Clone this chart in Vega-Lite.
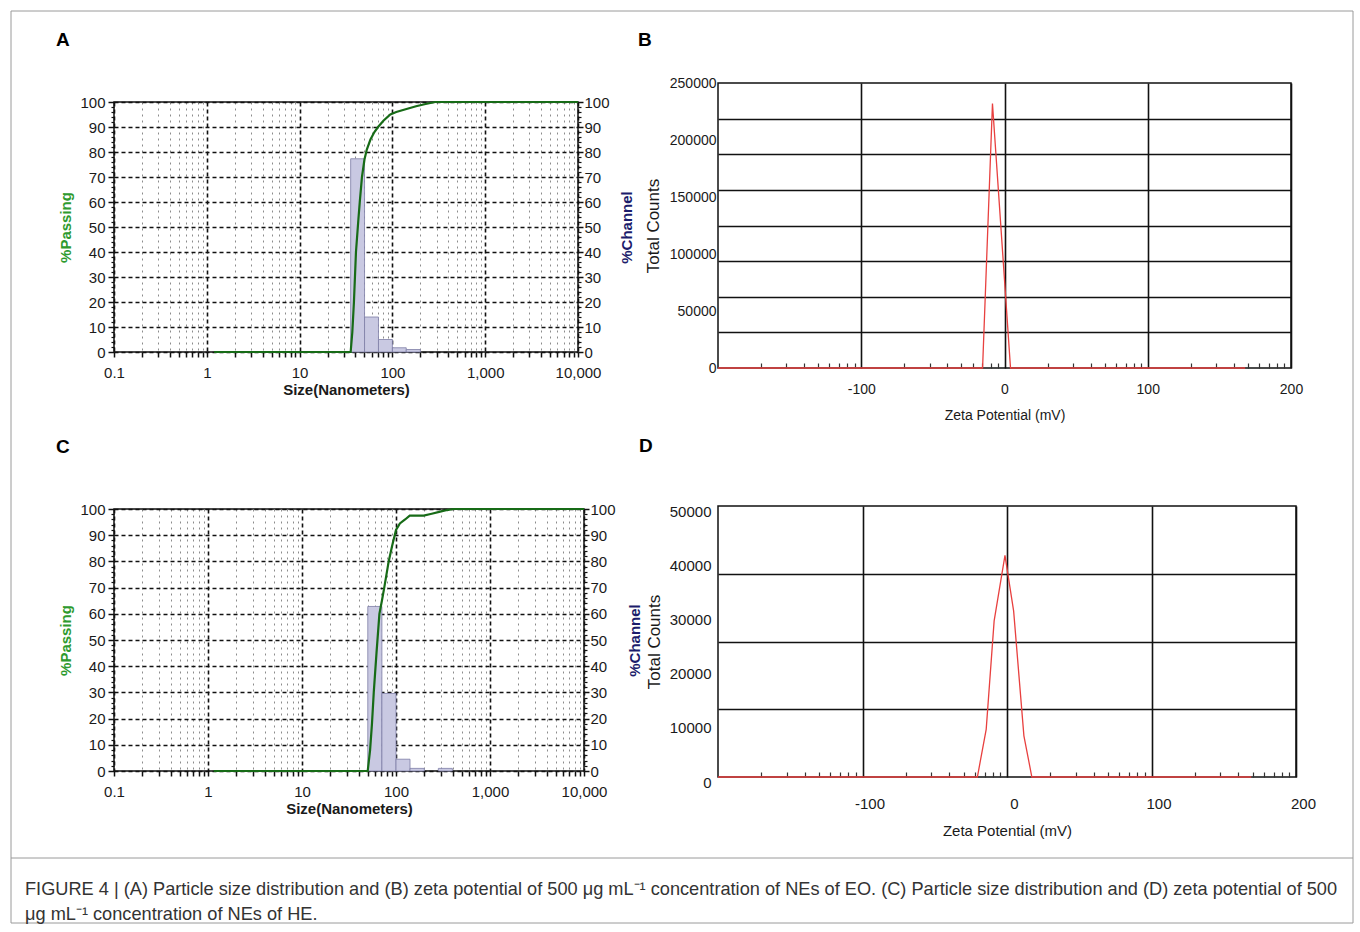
{
  "$schema": "https://vega.github.io/schema/vega-lite/v6.json",
  "background": "white",
  "padding": {"left": 10, "top": 10, "right": 5, "bottom": 5},
  "config": {
    "font": "Liberation Sans",
    "view": {"stroke": "#111", "strokeWidth": 1.5},
    "axis": {"labelColor": "#1a1a1a", "titleColor": "#1a1a1a", "labelFont": "Liberation Sans", "titleFont": "Liberation Sans", "labelFlush": false, "labelOverlap": false, "tickColor": "#111", "domainColor": "#111"},
    "title": {"font": "Liberation Sans", "fontSize": 19, "fontWeight": "bold", "color": "#000", "anchor": "start", "frame": "group"}
  },
  "datasets": {
    "passA": [{"size":1.2,"pct":0},{"size":35.5,"pct":0},{"size":37,"pct":8},{"size":38.5,"pct":20},{"size":40.5,"pct":40},{"size":43,"pct":53},{"size":44.5,"pct":60},{"size":47,"pct":70},{"size":50,"pct":77},{"size":53,"pct":81},{"size":58,"pct":85},{"size":64,"pct":88},{"size":70,"pct":90},{"size":80,"pct":92.5},{"size":95,"pct":95},{"size":110,"pct":96},{"size":145,"pct":97.3},{"size":180,"pct":98.3},{"size":228,"pct":99.2},{"size":290,"pct":100},{"size":10000,"pct":100}],
    "barsA": [{"lo":35.5,"hi":50.1,"ch":77.3},{"lo":50.1,"hi":70.8,"ch":14},{"lo":70.8,"hi":100,"ch":5},{"lo":100,"hi":141,"ch":1.7},{"lo":141,"hi":200,"ch":1}],
    "passC": [{"size":1.15,"pct":0},{"size":50,"pct":0},{"size":53,"pct":8},{"size":55.5,"pct":18},{"size":58,"pct":30},{"size":62,"pct":45},{"size":66.6,"pct":60},{"size":70.8,"pct":65},{"size":75,"pct":70},{"size":83.6,"pct":80},{"size":91,"pct":86},{"size":100,"pct":92},{"size":110,"pct":94.5},{"size":125,"pct":96},{"size":140,"pct":97.5},{"size":197,"pct":97.5},{"size":240,"pct":98.2},{"size":295,"pct":99},{"size":350,"pct":99.6},{"size":406,"pct":100},{"size":10000,"pct":100}],
    "barsC": [{"lo":50.1,"hi":70.8,"ch":62.8},{"lo":70.8,"hi":100,"ch":29.6},{"lo":100,"hi":141,"ch":4.5},{"lo":141,"hi":200,"ch":1},{"lo":282,"hi":398,"ch":1}],
    "zetaB": [{"mv":-200,"counts":0},{"mv":-15.3,"counts":0},{"mv":-8.4,"counts":232000},{"mv":4.2,"counts":0},{"mv":168,"counts":0}],
    "zetaD": [{"mv":-200,"counts":0},{"mv":-20.5,"counts":0},{"mv":-14.4,"counts":8800},{"mv":-8.9,"counts":28800},{"mv":-1.4,"counts":40900},{"mv":4.6,"counts":30600},{"mv":11.7,"counts":7600},{"mv":17.2,"counts":0},{"mv":169,"counts":0}],
    "caption": [{"line":1,"text":"FIGURE 4 | (A) Particle size distribution and (B) zeta potential of 500 μg mL⁻¹ concentration of NEs of EO. (C) Particle size distribution and (D) zeta potential of 500"},{"line":2,"text":"μg mL⁻¹ concentration of NEs of HE."}]
  },
  "columns": 1,
  "spacing": -829,
  "concat": [
    {
      "spacing": -6,
      "hconcat": [
        {
          "spacing": 39,
          "vconcat": [
            {
              "spacing": 10,
              "vconcat": [
                {
                  "width": 464, "height": 1,
                  "view": {"stroke": null},
                  "title": {"text": "A", "dx": -58, "offset": 33},
                  "data": {"values": []},
                  "mark": "point"
                },
                {
                  "width": 464, "height": 250,
                  "resolve": {"axis": {"x": "independent", "y": "independent"}},
                  "layer": [
                    {
                      "data": {"name": "passA"},
                      "mark": {"type": "line", "strokeOpacity": 0},
                      "encoding": {
                        "x": {"field": "size", "type": "quantitative", "scale": {"type": "log", "domain": [0.1, 10000], "nice": false},
                          "axis": {"orient": "bottom", "values": [0.2,0.3,0.4,0.5,0.6,0.7,0.8,0.9,2,3,4,5,6,7,8,9,20,30,40,50,60,70,80,90,200,300,400,500,600,700,800,900,2000,3000,4000,5000,6000,7000,8000,9000], "labels": false, "domain": false, "tickSize": 5, "tickWidth": 1.5, "grid": true, "gridColor": "#8c8c8c", "gridDash": [2, 4], "gridWidth": 1, "title": null}},
                        "y": {"field": "pct", "type": "quantitative", "scale": {"domain": [0, 100], "nice": false},
                          "axis": {"orient": "left", "values": [2,4,6,8,12,14,16,18,22,24,26,28,32,34,36,38,42,44,46,48,52,54,56,58,62,64,66,68,72,74,76,78,82,84,86,88,92,94,96,98], "labels": false, "domain": false, "tickSize": 3, "tickWidth": 1.2, "grid": false, "title": null}}
                      }
                    },
                    {
                      "data": {"name": "barsA"},
                      "mark": {"type": "rect", "fill": "#c9c9e2", "stroke": "#7d7da6", "strokeWidth": 0.8},
                      "encoding": {
                        "x": {"field": "lo", "type": "quantitative", "scale": {"type": "log", "domain": [0.1, 10000], "nice": false},
                          "axis": {"orient": "bottom", "values": [0.1, 1, 10, 100, 1000, 10000], "format": ",", "grid": true, "gridColor": "#111", "gridDash": [4, 3], "gridWidth": 1.6, "tickSize": 5, "tickWidth": 1.5, "domain": false, "labelFontSize": 15, "labelPadding": 8, "title": "Size(Nanometers)", "titleFontSize": 15, "titleFontWeight": "bold", "titlePadding": 2}},
                        "x2": {"field": "hi"},
                        "y": {"field": "ch", "type": "quantitative", "scale": {"domain": [0, 100], "nice": false},
                          "axis": {"orient": "left", "values": [0,10,20,30,40,50,60,70,80,90,100], "format": "d", "grid": true, "gridColor": "#111", "gridDash": [4, 3], "gridWidth": 1.6, "tickSize": 6, "tickWidth": 1.5, "domain": false, "labelFontSize": 15, "labelPadding": 3, "title": "%Passing", "titleColor": "#2e9a2e", "titleFontSize": 15, "titleFontWeight": "bold", "titlePadding": 6}},
                        "y2": {"datum": 0}
                      }
                    },
                    {
                      "data": {"name": "passA"},
                      "mark": {"type": "line", "strokeOpacity": 0},
                      "encoding": {
                        "x": {"field": "size", "type": "quantitative", "scale": {"type": "log", "domain": [0.1, 10000], "nice": false}, "axis": null},
                        "y": {"field": "pct", "type": "quantitative", "scale": {"domain": [0, 100], "nice": false},
                          "axis": {"orient": "right", "values": [2,4,6,8,12,14,16,18,22,24,26,28,32,34,36,38,42,44,46,48,52,54,56,58,62,64,66,68,72,74,76,78,82,84,86,88,92,94,96,98], "labels": false, "domain": false, "tickSize": 3, "tickWidth": 1.2, "grid": false, "title": null}}
                      }
                    },
                    {
                      "data": {"name": "passA"},
                      "mark": {"type": "line", "color": "#176b17", "strokeWidth": 2.2},
                      "encoding": {
                        "x": {"field": "size", "type": "quantitative", "scale": {"type": "log", "domain": [0.1, 10000], "nice": false}, "axis": null},
                        "y": {"field": "pct", "type": "quantitative", "scale": {"domain": [0, 100], "nice": false},
                          "axis": {"orient": "right", "values": [0,10,20,30,40,50,60,70,80,90,100], "format": "d", "grid": false, "tickSize": 5, "tickWidth": 1.5, "domain": false, "labelFontSize": 15, "labelPadding": 1, "title": "%Channel", "titleColor": "#1c1c6b", "titleFontSize": 15, "titleFontWeight": "bold", "titleAngle": 270, "titleBaseline": "top", "titlePadding": 10}}
                      }
                    }
                  ]
                }
              ]
            },
            {
              "width": 470, "height": 262,
              "title": {"text": "C", "dx": -58, "offset": 45},
              "resolve": {"axis": {"x": "independent", "y": "independent"}},
              "layer": [
                {
                  "data": {"name": "passC"},
                  "mark": {"type": "line", "strokeOpacity": 0},
                  "encoding": {
                    "x": {"field": "size", "type": "quantitative", "scale": {"type": "log", "domain": [0.1, 10000], "nice": false},
                      "axis": {"orient": "bottom", "values": [0.2,0.3,0.4,0.5,0.6,0.7,0.8,0.9,2,3,4,5,6,7,8,9,20,30,40,50,60,70,80,90,200,300,400,500,600,700,800,900,2000,3000,4000,5000,6000,7000,8000,9000], "labels": false, "domain": false, "tickSize": 5, "tickWidth": 1.5, "grid": true, "gridColor": "#8c8c8c", "gridDash": [2, 4], "gridWidth": 1, "title": null}},
                    "y": {"field": "pct", "type": "quantitative", "scale": {"domain": [0, 100], "nice": false},
                      "axis": {"orient": "left", "values": [2,4,6,8,12,14,16,18,22,24,26,28,32,34,36,38,42,44,46,48,52,54,56,58,62,64,66,68,72,74,76,78,82,84,86,88,92,94,96,98], "labels": false, "domain": false, "tickSize": 3, "tickWidth": 1.2, "grid": false, "title": null}}
                  }
                },
                {
                  "data": {"name": "barsC"},
                  "mark": {"type": "rect", "fill": "#c9c9e2", "stroke": "#7d7da6", "strokeWidth": 0.8},
                  "encoding": {
                    "x": {"field": "lo", "type": "quantitative", "scale": {"type": "log", "domain": [0.1, 10000], "nice": false},
                      "axis": {"orient": "bottom", "values": [0.1, 1, 10, 100, 1000, 10000], "format": ",", "grid": true, "gridColor": "#111", "gridDash": [4, 3], "gridWidth": 1.6, "tickSize": 5, "tickWidth": 1.5, "domain": false, "labelFontSize": 15, "labelPadding": 8, "title": "Size(Nanometers)", "titleFontSize": 15, "titleFontWeight": "bold", "titlePadding": 2}},
                    "x2": {"field": "hi"},
                    "y": {"field": "ch", "type": "quantitative", "scale": {"domain": [0, 100], "nice": false},
                      "axis": {"orient": "left", "values": [0,10,20,30,40,50,60,70,80,90,100], "format": "d", "grid": true, "gridColor": "#111", "gridDash": [4, 3], "gridWidth": 1.6, "tickSize": 6, "tickWidth": 1.5, "domain": false, "labelFontSize": 15, "labelPadding": 3, "title": "%Passing", "titleColor": "#2e9a2e", "titleFontSize": 15, "titleFontWeight": "bold", "titlePadding": 6}},
                    "y2": {"datum": 0}
                  }
                },
                {
                  "data": {"name": "passC"},
                  "mark": {"type": "line", "strokeOpacity": 0},
                  "encoding": {
                    "x": {"field": "size", "type": "quantitative", "scale": {"type": "log", "domain": [0.1, 10000], "nice": false}, "axis": null},
                    "y": {"field": "pct", "type": "quantitative", "scale": {"domain": [0, 100], "nice": false},
                      "axis": {"orient": "right", "values": [2,4,6,8,12,14,16,18,22,24,26,28,32,34,36,38,42,44,46,48,52,54,56,58,62,64,66,68,72,74,76,78,82,84,86,88,92,94,96,98], "labels": false, "domain": false, "tickSize": 3, "tickWidth": 1.2, "grid": false, "title": null}}
                  }
                },
                {
                  "data": {"name": "passC"},
                  "mark": {"type": "line", "color": "#176b17", "strokeWidth": 2.2},
                  "encoding": {
                    "x": {"field": "size", "type": "quantitative", "scale": {"type": "log", "domain": [0.1, 10000], "nice": false}, "axis": null},
                    "y": {"field": "pct", "type": "quantitative", "scale": {"domain": [0, 100], "nice": false},
                      "axis": {"orient": "right", "values": [0,10,20,30,40,50,60,70,80,90,100], "format": "d", "grid": false, "tickSize": 5, "tickWidth": 1.5, "domain": false, "labelFontSize": 15, "labelPadding": 1, "title": "%Channel", "titleColor": "#1c1c6b", "titleFontSize": 15, "titleFontWeight": "bold", "titleAngle": 270, "titleBaseline": "top", "titlePadding": 12}}
                  }
                }
              ]
            }
          ]
        },
        {
          "spacing": 13,
          "vconcat": [
            {
              "width": 573, "height": 285,
              "title": {"text": "B", "dx": -80, "offset": 26},
              "resolve": {"axis": {"x": "independent", "y": "independent"}},
              "layer": [
                {
                  "data": {"name": "zetaB"},
                  "mark": {"type": "line", "strokeOpacity": 0},
                  "encoding": {
                    "x": {"field": "mv", "type": "quantitative", "scale": {"domain": [-200, 200], "nice": false, "zero": false},
                      "axis": {"orient": "bottom", "values": [-169.9,-152.3,-139.8,-130.1,-122.2,-115.5,-109.7,-104.6,-69.9,-52.3,-39.8,-30.1,-22.2,-15.5,-9.7,-4.6,30.1,47.7,60.2,69.9,77.8,84.5,90.3,95.4,130.1,147.7,160.2,169.9,177.8,184.5,190.3,195.4], "labels": false, "domain": false, "tickSize": -5, "tickWidth": 1.2, "tickColor": "#333", "grid": false, "title": null}},
                    "y": {"field": "counts", "type": "quantitative", "scale": {"domain": [0, 250000], "nice": false},
                      "axis": {"orient": "right", "values": [31250, 62500, 93750, 125000, 156250, 187500, 218750], "labels": false, "ticks": false, "domain": false, "grid": true, "gridColor": "#111", "gridWidth": 1.6, "title": null}}
                  }
                },
                {
                  "data": {"name": "zetaB"},
                  "mark": {"type": "line", "color": "#e8403f", "strokeWidth": 1.3},
                  "encoding": {
                    "x": {"field": "mv", "type": "quantitative", "scale": {"domain": [-200, 200], "nice": false, "zero": false},
                      "axis": {"orient": "bottom", "values": [-100, 0, 100, 200], "format": "d", "labelExpr": "replace(datum.label, '−', '-')", "grid": true, "gridColor": "#111", "gridWidth": 1.6, "ticks": false, "domain": false, "labelFontSize": 14, "labelPadding": 14, "title": "Zeta Potential (mV)", "titleFontSize": 14, "titleFontWeight": "normal", "titlePadding": 12}},
                    "y": {"field": "counts", "type": "quantitative", "scale": {"domain": [0, 250000], "nice": false},
                      "axis": {"orient": "left", "values": [0, 50000, 100000, 150000, 200000, 250000], "format": "d", "grid": false, "ticks": false, "domain": false, "labelFontSize": 14, "labelPadding": 2, "title": "Total Counts", "titleFontSize": 17, "titleFontWeight": "normal", "titlePadding": 7}}
                  }
                }
              ]
            },
            {
              "width": 578, "height": 271,
              "title": {"text": "D", "dx": -79, "offset": 48},
              "resolve": {"axis": {"x": "independent", "y": "independent"}},
              "layer": [
                {
                  "data": {"name": "zetaD"},
                  "mark": {"type": "line", "strokeOpacity": 0},
                  "encoding": {
                    "x": {"field": "mv", "type": "quantitative", "scale": {"domain": [-200, 200], "nice": false, "zero": false},
                      "axis": {"orient": "bottom", "values": [-169.9,-152.3,-139.8,-130.1,-122.2,-115.5,-109.7,-104.6,-69.9,-52.3,-39.8,-30.1,-22.2,-15.5,-9.7,-4.6,30.1,47.7,60.2,69.9,77.8,84.5,90.3,95.4,130.1,147.7,160.2,169.9,177.8,184.5,190.3,195.4], "labels": false, "domain": false, "tickSize": -5, "tickWidth": 1.2, "tickColor": "#333", "grid": false, "title": null}},
                    "y": {"field": "counts", "type": "quantitative", "scale": {"domain": [0, 50000], "nice": false},
                      "axis": {"orient": "right", "values": [12500, 25000, 37500], "labels": false, "ticks": false, "domain": false, "grid": true, "gridColor": "#111", "gridWidth": 1.6, "title": null}}
                  }
                },
                {
                  "data": {"name": "zetaD"},
                  "mark": {"type": "line", "color": "#e8403f", "strokeWidth": 1.3},
                  "encoding": {
                    "x": {"field": "mv", "type": "quantitative", "scale": {"domain": [-200, 200], "nice": false, "zero": false},
                      "axis": {"orient": "bottom", "values": [-100, 0, 100, 200], "format": "d", "labelExpr": "replace(datum.label, '−', '-')", "grid": true, "gridColor": "#111", "gridWidth": 1.6, "ticks": false, "domain": false, "labelFontSize": 15, "labelPadding": 19, "labelOffset": 7, "title": "Zeta Potential (mV)", "titleFontSize": 15, "titleFontWeight": "normal", "titlePadding": 12}},
                    "y": {"field": "counts", "type": "quantitative", "scale": {"domain": [0, 50000], "nice": false},
                      "axis": {"orient": "left", "values": [0, 10000, 20000, 30000, 40000, 50000], "format": "d", "grid": false, "ticks": false, "domain": false, "labelFontSize": 15, "labelPadding": 7, "labelOffset": 5, "title": "Total Counts", "titleFontSize": 17, "titleFontWeight": "normal", "titlePadding": 6}}
                  }
                }
              ]
            }
          ]
        }
      ]
    },
    {
      "width": 1239, "height": 65,
      "view": {"stroke": null},
      "layer": [
        {
          "data": {"values": [{}]},
          "mark": {"type": "rect", "fill": null, "stroke": "#9a9a9a", "strokeWidth": 1},
          "encoding": {
            "x": {"datum": 0, "type": "quantitative", "scale": {"domain": [0, 1], "range": [-103, 1239]}, "axis": null},
            "x2": {"datum": 1},
            "y": {"datum": -34.16, "type": "quantitative", "scale": {"domain": [-0.28, 2.32], "reverse": true}, "axis": null},
            "y2": {"datum": 2.32}
          }
        },
        {
          "data": {"values": [{}]},
          "mark": {"type": "rule", "stroke": "#9a9a9a", "strokeWidth": 1},
          "encoding": {
            "x": {"datum": 0, "type": "quantitative", "scale": {"domain": [0, 1], "range": [-103, 1239]}, "axis": null},
            "x2": {"datum": 1},
            "y": {"datum": -0.28, "type": "quantitative", "scale": {"domain": [-0.28, 2.32], "reverse": true}, "axis": null}
          }
        },
        {
          "data": {"name": "caption"},
          "mark": {"type": "text", "align": "left", "baseline": "middle", "fontSize": 18.2, "color": "#333", "dx": 14},
          "encoding": {
            "x": {"datum": 0, "type": "quantitative", "scale": {"domain": [0, 1], "range": [-103, 1239]}, "axis": null},
            "y": {"field": "line", "type": "quantitative", "scale": {"domain": [-0.28, 2.32], "reverse": true}, "axis": null},
            "text": {"field": "text"}
          }
        }
      ]
    }
  ]
}
